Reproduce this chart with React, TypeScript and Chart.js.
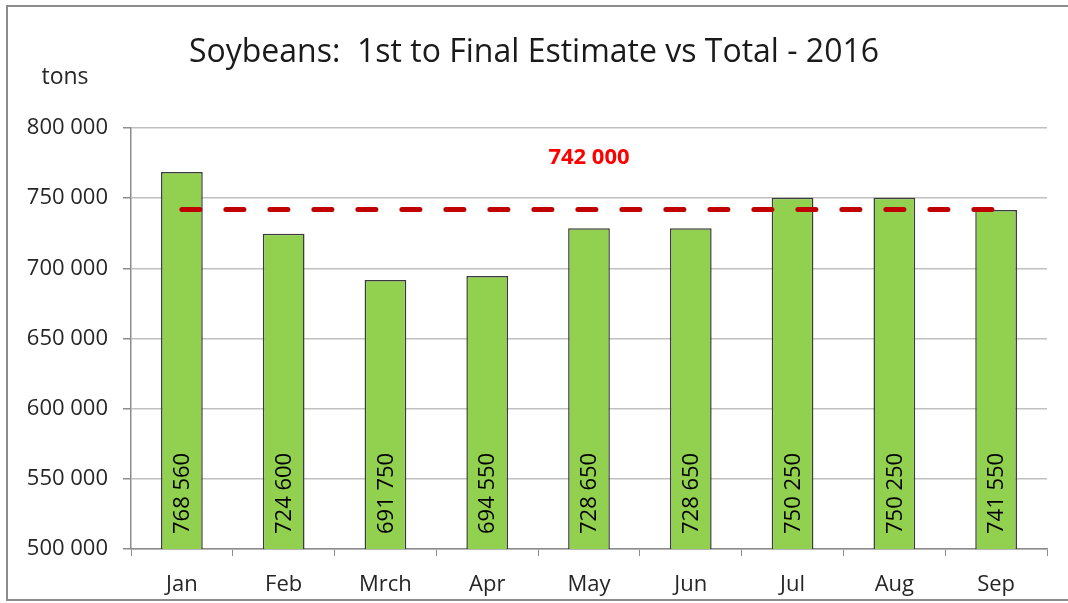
import React, { useEffect, useRef } from "react";
import { Chart, registerables } from "chart.js";

Chart.register(...registerables);

const categories = ["Jan", "Feb", "Mrch", "Apr", "May", "Jun", "Jul", "Aug", "Sep"];
const estimates = [768560, 724600, 691750, 694550, 728650, 728650, 750250, 750250, 741550];
const finalTotal = [742000, 742000, 742000, 742000, 742000, 742000, 742000, 742000, 742000];
const totalLabel = "742 000";
const totalLabelCategory = "May";
const totalLabelValue = 779000;
const yTicks = [500000, 550000, 600000, 650000, 700000, 750000, 800000];
const titleText = "Soybeans:  1st to Final Estimate vs Total - 2016";
const unitText = "tons";

const FONT = "'Open Sans', 'Noto Sans', sans-serif";

const fmt = (v: number) => {
  const s = Math.round(v).toString();
  return s.replace(/\B(?=(\d{3})+(?!\d))/g, " ");
};

const decorPlugin = {
  id: "decor",
  beforeDraw(chart: any) {
    const ctx = chart.ctx;
    ctx.save();
    ctx.fillStyle = "#ffffff";
    ctx.fillRect(0, 0, chart.width, chart.height);
    ctx.strokeStyle = "#8c8c8c";
    ctx.lineWidth = 2;
    ctx.beginPath();
    ctx.moveTo(chart.width, 6);
    ctx.lineTo(7, 6);
    ctx.lineTo(7, 600);
    ctx.lineTo(chart.width, 600);
    ctx.stroke();
    ctx.restore();
  },
  afterDraw(chart: any) {
    const ctx = chart.ctx;
    const xs = chart.scales.x;
    const ys = chart.scales.y;
    ctx.save();
    ctx.fillStyle = "#1a1a1a";
    ctx.textAlign = "center";
    ctx.textBaseline = "middle";
    ctx.font = `32px ${FONT}`;
    ctx.fillText(titleText, chart.width / 2, 53);
    ctx.fillStyle = "#262626";
    ctx.font = `23px ${FONT}`;
    ctx.fillText(unitText, 65, 77);
    // bar labels
    ctx.fillStyle = "#000000";
    ctx.font = `22px ${FONT}`;
    ctx.textAlign = "left";
    ctx.textBaseline = "middle";
    const base = ys.getPixelForValue(ys.min);
    categories.forEach((c, i) => {
      const x = xs.getPixelForValue(i);
      ctx.save();
      ctx.translate(x + 1, base - 15);
      ctx.rotate(-Math.PI / 2);
      ctx.fillText(fmt(estimates[i]), 0, 0);
      ctx.restore();
    });
    // total label
    ctx.fillStyle = "#ff0000";
    ctx.font = `bold 22px ${FONT}`;
    ctx.textAlign = "center";
    ctx.fillText(totalLabel, xs.getPixelForValue(categories.indexOf(totalLabelCategory)), ys.getPixelForValue(totalLabelValue));
    ctx.restore();
  },
};

export default function App() {
  const ref = useRef<HTMLCanvasElement | null>(null);
  useEffect(() => {
    if (!ref.current) return;
    const chart = new Chart(ref.current, {
      type: "bar",
      data: {
        labels: categories,
        datasets: [
          {
            type: "bar",
            data: estimates,
            backgroundColor: "#92d050",
            borderColor: "#3a3a3a",
            borderWidth: 1.5,
            categoryPercentage: 1,
            barPercentage: 0.41,
            order: 2,
          },
          {
            type: "line",
            data: finalTotal,
            borderColor: "#c00000",
            borderWidth: 5,
            borderDash: [18, 26],
            borderCapStyle: "round",
            pointRadius: 0,
            fill: false,
            order: 1,
          } as any,
        ],
      },
      options: {
        animation: false,
        responsive: false,
        maintainAspectRatio: false,
        layout: { padding: { top: 128, right: 21, left: 0, bottom: 0 } },
        plugins: { legend: { display: false }, title: { display: false }, tooltip: { enabled: false } },
        scales: {
          x: {
            grid: {
              display: true,
              offset: true,
              drawOnChartArea: false,
              drawTicks: true,
              tickLength: 7,
              color: "#8c8c8c",
            },
            border: { display: true, color: "#8c8c8c", width: 1.5 },
            ticks: {
              color: "#262626",
              font: { family: FONT, size: 22 },
              padding: 16,
              maxRotation: 0,
            },
            afterFit(scale: any) {
              scale.height = 54;
            },
          },
          y: {
            min: 500000,
            max: 800000,
            afterBuildTicks(scale: any) {
              scale.ticks = yTicks.map((v) => ({ value: v }));
            },
            grid: {
              color: "#c0c0c0",
              lineWidth: 1.5,
              drawTicks: true,
              tickLength: 8,
              tickColor: "#8c8c8c",
            },
            border: { display: true, color: "#8c8c8c", width: 1.5 },
            ticks: {
              color: "#262626",
              font: { family: FONT, size: 22 },
              padding: 15,
              callback: (v: any) => fmt(Number(v)),
            },
            afterFit(scale: any) {
              scale.width = 131;
            },
          },
        },
      },
      plugins: [decorPlugin],
    });
    return () => chart.destroy();
  }, []);
  return (
    <div style={{ position: "absolute", left: 0, top: 0, width: 1068, height: 603, background: "#fff" }}>
      <canvas ref={ref} width={1068} height={603} style={{ width: 1068, height: 603, display: "block" }} />
    </div>
  );
}
